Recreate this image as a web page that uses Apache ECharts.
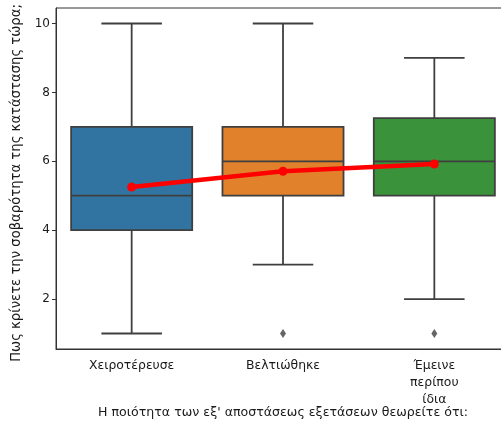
<!DOCTYPE html>
<html>
<head>
<meta charset="utf-8">
<script src="https://cdn.jsdelivr.net/npm/echarts@6/dist/echarts.min.js"></script>
<style>
html,body{margin:0;padding:0;background:#fff;}
#chart{width:501px;height:428px;}
</style>
</head>
<body>
<div id="chart"></div>
<script>
const categories = ['Χειροτέρευσε', 'Βελτιώθηκε', 'Έμεινε\nπερίπου\nίδια'];
const whiskerLow = [1, 3, 2];
const q1 = [4, 5, 5];
const median = [5, 6, 6];
const q3 = [7, 7, 7.25];
const whiskerHigh = [10, 10, 9];
const outliers = [[1, 1], [2, 1]];
const means = [5.25, 5.71, 5.92];
const yTicks = [2, 4, 6, 8, 10];

const boxColors = ['#3274a1', '#e1812c', '#3a923a'];
const lineColor = '#3f3f3f';
const font = 'DejaVu Sans';

const boxData = categories.map((c, i) => [i, whiskerLow[i], q1[i], median[i], q3[i], whiskerHigh[i]]);

function renderBox(params, api) {
  const i = api.value(0);
  const lo = api.coord([i, api.value(1)]);
  const b1 = api.coord([i, api.value(2)]);
  const md = api.coord([i, api.value(3)]);
  const b3 = api.coord([i, api.value(4)]);
  const hi = api.coord([i, api.value(5)]);
  const band = api.size([1, 0])[0];
  const w = band * 0.8;
  const cap = w / 2;
  const x = lo[0];
  const ls = { stroke: lineColor, lineWidth: 1.8 };
  return {
    type: 'group',
    children: [
      { type: 'line', shape: { x1: x, y1: lo[1], x2: x, y2: b1[1] }, style: ls },
      { type: 'line', shape: { x1: x, y1: b3[1], x2: x, y2: hi[1] }, style: ls },
      { type: 'line', shape: { x1: x - cap / 2, y1: lo[1], x2: x + cap / 2, y2: lo[1] }, style: ls },
      { type: 'line', shape: { x1: x - cap / 2, y1: hi[1], x2: x + cap / 2, y2: hi[1] }, style: ls },
      { type: 'rect', shape: { x: x - w / 2, y: b3[1], width: w, height: b1[1] - b3[1] },
        style: { fill: boxColors[i], stroke: lineColor, lineWidth: 1.8 } },
      { type: 'line', shape: { x1: x - w / 2, y1: md[1], x2: x + w / 2, y2: md[1] }, style: ls }
    ]
  };
}

const chart = echarts.init(document.getElementById('chart'), null, { renderer: 'canvas' });
chart.setOption({
  backgroundColor: '#fff',
  animation: false,
  grid: { left: 56, top: 8, width: 454, bottom: 79, outerBoundsMode: 'none', containLabel: false,
          show: true, borderColor: '#333', borderWidth: 1, backgroundColor: '#fff' },
  xAxis: {
    type: 'category',
    data: categories,
    boundaryGap: true,
    axisLine: { lineStyle: { color: '#333', width: 1 } },
    axisTick: { alignWithLabel: true, length: 4, lineStyle: { color: '#333' } },
    axisLabel: { color: '#1a1a1a', fontFamily: font, fontSize: 12.4, margin: 8, lineHeight: 17, interval: 0 },
    name: "Η ποιότητα των εξ' αποστάσεως εξετάσεων θεωρείτε ότι:",
    nameLocation: 'middle',
    nameGap: 57,
    nameMoveOverlap: false,
    nameTextStyle: { color: '#1a1a1a', fontFamily: font, fontSize: 12.6 }
  },
  yAxis: {
    type: 'value',
    min: 0.55,
    max: 10.45,
    splitLine: { show: false },
    axisLine: { show: true, lineStyle: { color: '#333', width: 1 } },
    axisTick: { show: true, length: 4, lineStyle: { color: '#333' }, customValues: yTicks },
    axisLabel: { color: '#1a1a1a', fontFamily: font, fontSize: 12, margin: 6, customValues: yTicks },
    name: 'Πως κρίνετε την σοβαρότητα της κατάστασης τώρα;',
    nameLocation: 'middle',
    nameGap: 33,
    nameMoveOverlap: false,
    nameTextStyle: { color: '#1a1a1a', fontFamily: font, fontSize: 13.2, padding: [0, 9, 0, 0] }
  },
  series: [
    {
      type: 'custom',
      renderItem: renderBox,
      data: boxData,
      encode: { x: 0, y: [1, 2, 3, 4, 5] },
      z: 2
    },
    {
      type: 'scatter',
      data: outliers,
      symbol: 'diamond',
      symbolSize: [6, 9],
      itemStyle: { color: lineColor },
      z: 3
    },
    {
      type: 'line',
      data: means,
      lineStyle: { color: '#ff0000', width: 4.5 },
      itemStyle: { color: '#ff0000' },
      symbol: 'circle',
      symbolSize: 9,
      showSymbol: true,
      z: 5
    }
  ]
});
</script>
</body>
</html>
